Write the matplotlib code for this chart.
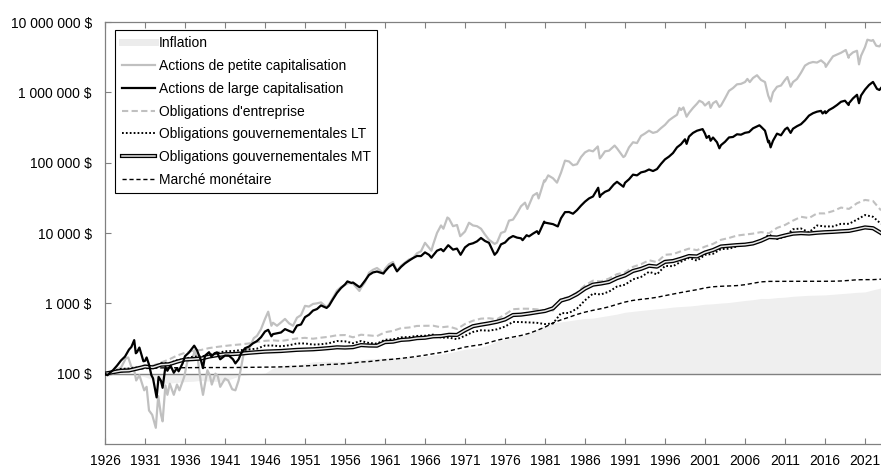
import numpy as np
import matplotlib
matplotlib.use("Agg")
import matplotlib.pyplot as plt
from matplotlib.lines import Line2D
from matplotlib.ticker import FixedLocator, FuncFormatter, NullLocator
import matplotlib.patheffects as pe

plt.rcParams["font.family"] = ["Liberation Sans", "DejaVu Sans"]
plt.rcParams["font.size"] = 10

# Growth of 100 $ invested at the start of 1926 (values at the end of each period)
years = list(range(1926, 2024))

inflation = [100, 98.5, 96.5, 95.5, 95.7, 89.9, 81.4, 73.0, 73.4, 74.9,
             77.1, 78.0, 80.4, 78.2, 77.8, 78.6, 86.2, 94.2, 97.2, 99.3,
             101.5, 119.9, 130.7, 134.3, 131.8, 139.5, 147.7, 149.0, 149.9, 149.2,
             149.7, 154.0, 158.7, 161.5, 163.9, 166.3, 167.4, 169.5, 172.3, 174.3,
             177.7, 183.6, 189.2, 198.1, 210.2, 221.8, 229.2, 237.1, 257.9, 289.4,
             309.7, 324.6, 346.6, 377.8, 428.1, 481.2, 524.2, 544.5, 565.2, 587.5,
             609.7, 616.4, 643.7, 672.2, 703.4, 746.4, 769.3, 791.6, 813.3, 835.1,
             856.3, 884.7, 900.2, 914.6, 938.9, 970.7, 985.7, 1009.1, 1028.1, 1062.3,
             1098.9, 1126.9, 1172.8, 1173.8, 1206.0, 1223.8, 1260.0, 1281.6, 1299.9, 1308.6,
             1318.2, 1345.3, 1374.0, 1401.0, 1433.0, 1452.0, 1556.0, 1655.0]

corporate = [100, 107, 115, 119, 123, 132, 130, 144, 159, 181,
             198, 212, 217, 231, 240, 248, 255, 261, 269, 282,
             293, 298, 291, 304, 317, 323, 314, 325, 335, 352,
             354, 329, 358, 350, 342, 388, 406, 444, 453, 477,
             479, 481, 456, 469, 431, 509, 566, 606, 613, 595,
             694, 824, 839, 838, 821, 780, 790, 1171, 1221, 1430,
             1800, 2100, 2050, 2250, 2600, 2750, 3300, 3600, 4100, 3850,
             4900, 5000, 5500, 6000, 5700, 6400, 7000, 8000, 8500, 9200,
             9500, 9800, 10300, 9900, 11800, 13000, 15000, 17000, 16300, 19000,
             19000, 20500, 23000, 22000, 26500, 29500, 28500, 21000]

gov_lt = [100, 108, 117, 118, 122, 127, 120, 141, 141, 155,
          162, 175, 175, 185, 196, 208, 210, 216, 221, 227,
          251, 251, 245, 253, 269, 269, 259, 262, 271, 291,
          288, 271, 291, 273, 267, 304, 307, 328, 332, 344,
          346, 359, 326, 325, 309, 346, 392, 414, 409, 427,
          467, 545, 541, 535, 528, 507, 517, 725, 730, 843,
          1104, 1375, 1337, 1467, 1732, 1839, 2194, 2371, 2803, 2586,
          3404, 3373, 3907, 4418, 4049, 4890, 5061, 5904, 5980, 6460,
          6920, 6990, 7650, 9500, 8200, 8900, 11300, 11600, 10200, 12800,
          12400, 12400, 13500, 13500, 15500, 18000, 17000, 13500]

gov_mt = [100, 105, 110, 111, 118, 126, 123, 134, 136, 148,
          159, 161, 164, 175, 183, 189, 190, 193, 198, 202,
          206, 208, 210, 214, 218, 220, 222, 226, 231, 237,
          235, 238, 255, 251, 250, 281, 285, 302, 307, 320,
          324, 339, 342, 357, 355, 415, 473, 497, 519, 547,
          590, 682, 691, 716, 747, 778, 850, 1095, 1180, 1350,
          1621, 1844, 1912, 2009, 2280, 2493, 2885, 3091, 3423, 3327,
          3891, 3994, 4312, 4704, 4640, 5280, 5720, 6430, 6580, 6730,
          6830, 7100, 7770, 8750, 8630, 9220, 9780, 9950, 9820, 10080,
          10260, 10380, 10570, 10720, 11320, 12000, 11700, 10000]

money_market = [100, 103.3, 106.5, 110.3, 115.6, 118.4, 119.6, 120.8, 121.2, 121.4,
                121.6, 121.8, 122.2, 122.1, 122.2, 122.2, 122.2, 122.6, 123.0, 123.4,
                123.8, 124.2, 124.9, 125.9, 127.3, 128.8, 130.7, 132.9, 135.3, 136.5,
                138.6, 142.0, 146.5, 148.7, 153.1, 157.2, 160.6, 164.9, 170.1, 176.1,
                183.0, 191.7, 199.8, 210.2, 224.0, 238.6, 249.1, 258.6, 276.5, 298.6,
                316.0, 332.0, 349.0, 374.1, 412.9, 459.3, 526.9, 582.4, 633.6, 696.0,
                749.7, 795.9, 839.4, 892.7, 967.4, 1043, 1101, 1140, 1173, 1219,
                1287, 1354, 1425, 1494, 1564, 1656, 1720, 1748, 1766, 1787,
                1840, 1929, 2019, 2051, 2053, 2055, 2056, 2057, 2058, 2058,
                2059, 2063, 2079, 2117, 2162, 2172, 2173, 2205]

# Stock indices sampled more finely (date as fractional year, value)
large_cap = [
    (1926.0, 100), (1926.3, 95), (1926.7, 105), (1927.0, 112), (1927.5, 130),
    (1928.0, 154), (1928.5, 175), (1929.0, 220), (1929.3, 240), (1929.65, 300),
    (1929.85, 195), (1930.0, 202), (1930.3, 235), (1930.8, 150), (1931.0, 152),
    (1931.2, 170), (1931.5, 135), (1931.8, 95), (1932.0, 86), (1932.45, 46),
    (1932.7, 90), (1933.0, 79), (1933.2, 63), (1933.55, 125), (1933.8, 110),
    (1934.0, 121), (1934.2, 130), (1934.6, 103), (1935.0, 120), (1935.2, 108),
    (1935.7, 140), (1936.0, 177), (1936.5, 200), (1937.0, 237), (1937.15, 250),
    (1937.5, 215), (1938.0, 154), (1938.25, 120), (1938.5, 180), (1939.0, 202),
    (1939.3, 175), (1939.7, 195), (1940.0, 201), (1940.4, 160), (1941.0, 181),
    (1941.5, 180), (1942.0, 160), (1942.3, 140), (1942.7, 160), (1943.0, 193),
    (1943.5, 230), (1944.0, 243), (1944.5, 270), (1945.0, 291), (1945.5, 330),
    (1946.0, 397), (1946.4, 420), (1946.8, 340), (1947.0, 365), (1947.5, 375),
    (1948.0, 385), (1948.5, 430), (1949.0, 406), (1949.5, 385), (1950.0, 483),
    (1950.5, 500), (1951.0, 636), (1951.5, 690), (1952.0, 789), (1952.5, 830),
    (1953.0, 934), (1953.7, 860), (1954.0, 924), (1954.5, 1150), (1955.0, 1411),
    (1955.5, 1650), (1956.0, 1856), (1956.3, 2050), (1956.8, 1950), (1957.0, 1978),
    (1957.8, 1700), (1958.0, 1765), (1958.5, 2100), (1959.0, 2530), (1959.5, 2750),
    (1960.0, 2832), (1960.8, 2650), (1961.0, 2846), (1961.5, 3300), (1962.0, 3611),
    (1962.5, 2850), (1963.0, 3295), (1963.5, 3700), (1964.0, 4047), (1964.5, 4400),
    (1965.0, 4714), (1965.5, 4700), (1966.0, 5301), (1966.5, 4900), (1966.8, 4450),
    (1967.0, 4767), (1967.5, 5600), (1968.0, 5910), (1968.3, 5500), (1968.9, 6700),
    (1969.0, 6564), (1969.5, 5800), (1970.0, 6006), (1970.45, 4900), (1971.0, 6247),
    (1971.5, 6900), (1972.0, 7141), (1972.5, 7600), (1973.0, 8496), (1973.5, 7700),
    (1974.0, 7250), (1974.7, 4900), (1975.0, 5331), (1975.5, 6900), (1976.0, 7314),
    (1976.5, 8400), (1977.0, 9058), (1977.5, 8600), (1978.0, 8408), (1978.2, 7900),
    (1978.7, 9300), (1979.0, 8959), (1979.5, 9800), (1980.0, 10611), (1980.2, 9700),
    (1980.9, 14500), (1981.0, 14051), (1981.5, 13700), (1982.0, 13362), (1982.6, 12400),
    (1983.0, 16222), (1983.5, 19800), (1984.0, 19875), (1984.5, 18800), (1985.0, 21120),
    (1985.5, 24500), (1986.0, 27912), (1986.5, 31000), (1987.0, 33067), (1987.65, 44000),
    (1987.85, 32500), (1988.0, 34797), (1988.5, 38500), (1989.0, 40646), (1989.6, 49000),
    (1990.0, 53446), (1990.8, 45500), (1991.0, 51750), (1991.5, 58000), (1992.0, 67559),
    (1992.5, 66000), (1993.0, 72741), (1993.5, 75000), (1994.0, 80008), (1994.5, 76000),
    (1995.0, 81054), (1995.5, 96000), (1996.0, 111392), (1996.5, 122000), (1997.0, 137095),
    (1997.5, 165000), (1998.0, 182833), (1998.5, 215000), (1998.7, 185000), (1999.0, 235089),
    (1999.5, 265000), (2000.0, 284563), (2000.7, 300000), (2001.0, 258652), (2001.2, 225000),
    (2001.5, 240000), (2001.7, 205000), (2002.0, 227913), (2002.5, 195000), (2002.8, 160000),
    (2003.0, 177534), (2003.5, 198000), (2004.0, 228479), (2004.5, 232000), (2005.0, 253341),
    (2005.5, 250000), (2006.0, 265770), (2006.5, 272000), (2007.0, 307780), (2007.5, 328000),
    (2007.8, 340000), (2008.0, 324700), (2008.5, 285000), (2008.9, 195000), (2009.0, 204570),
    (2009.2, 165000), (2009.5, 205000), (2010.0, 258710), (2010.5, 245000), (2011.0, 297670),
    (2011.3, 315000), (2011.7, 265000), (2012.0, 303960), (2012.5, 330000), (2013.0, 352620),
    (2013.5, 400000), (2014.0, 466820), (2014.5, 505000), (2015.0, 530750), (2015.5, 545000),
    (2015.7, 500000), (2016.0, 538090), (2016.1, 505000), (2016.5, 560000), (2017.0, 602460),
    (2017.5, 660000), (2018.0, 733960), (2018.5, 760000), (2018.95, 660000), (2019.0, 701760),
    (2019.5, 820000), (2020.0, 922720), (2020.25, 700000), (2020.5, 900000), (2021.0, 1092500),
    (2021.5, 1270000), (2022.0, 1406100), (2022.5, 1120000), (2022.8, 1080000), (2023.0, 1151400),
]

small_cap = [
    (1926.0, 100), (1926.5, 95), (1927.0, 100), (1927.5, 115), (1928.0, 122),
    (1928.6, 165), (1928.9, 170), (1929.3, 125), (1929.6, 120), (1929.9, 80),
    (1930.3, 95), (1930.9, 58), (1931.2, 65), (1931.5, 30), (1931.9, 26),
    (1932.35, 17), (1932.65, 48), (1933.0, 26), (1933.2, 21), (1933.55, 68),
    (1933.8, 50), (1934.1, 72), (1934.6, 50), (1935.0, 70), (1935.3, 58),
    (1935.9, 90), (1936.3, 150), (1937.0, 170), (1937.2, 215), (1937.6, 160),
    (1938.0, 72), (1938.25, 50), (1938.8, 112), (1939.1, 95), (1939.35, 70),
    (1939.8, 100), (1940.1, 92), (1940.4, 65), (1941.0, 85), (1941.4, 80),
    (1941.9, 60), (1942.3, 58), (1942.7, 80), (1943.0, 120), (1943.4, 210),
    (1944.0, 224), (1944.6, 320), (1945.0, 345), (1945.5, 430), (1946.0, 600),
    (1946.4, 760), (1946.8, 480), (1947.0, 530), (1947.5, 480), (1948.0, 535),
    (1948.5, 600), (1949.0, 520), (1949.5, 480), (1950.0, 625), (1950.5, 680),
    (1951.0, 920), (1951.5, 900), (1952.0, 980), (1952.5, 1000), (1953.0, 1030),
    (1953.7, 880), (1954.0, 965), (1954.5, 1200), (1955.0, 1520), (1955.5, 1700),
    (1956.0, 1830), (1956.5, 1950), (1957.0, 1910), (1957.8, 1500), (1958.0, 1660),
    (1958.5, 2000), (1959.0, 2720), (1959.5, 3000), (1960.0, 3180), (1960.8, 2700),
    (1961.0, 3090), (1961.5, 3600), (1962.0, 3870), (1962.5, 2900), (1963.0, 3420),
    (1963.5, 3800), (1964.0, 4200), (1964.5, 4400), (1965.0, 5150), (1965.5, 5500),
    (1966.0, 7250), (1966.8, 5600), (1967.0, 6750), (1967.5, 10000), (1968.0, 12800),
    (1968.3, 11500), (1968.8, 16600), (1969.0, 16000), (1969.5, 12500), (1970.0, 13000),
    (1970.4, 9000), (1971.0, 10500), (1971.5, 14000), (1972.0, 12800), (1972.5, 12500),
    (1973.0, 11500), (1973.5, 9500), (1974.0, 8000), (1974.7, 7000), (1975.0, 7300),
    (1975.5, 10000), (1976.0, 10500), (1976.5, 15000), (1977.0, 15500), (1977.5, 19000),
    (1978.0, 24000), (1978.5, 27000), (1978.8, 22000), (1979.0, 25000), (1979.5, 34000),
    (1980.0, 37000), (1980.2, 31000), (1980.9, 56000), (1981.0, 54000), (1981.4, 66000),
    (1982.0, 60000), (1982.5, 52000), (1983.0, 72000), (1983.5, 107000), (1984.0, 104000),
    (1984.5, 92000), (1985.0, 95000), (1985.5, 120000), (1986.0, 140000), (1986.5, 150000),
    (1987.0, 145000), (1987.6, 170000), (1987.85, 115000), (1988.0, 120000), (1988.5, 145000),
    (1989.0, 148000), (1989.7, 175000), (1990.0, 160000), (1990.8, 120000), (1991.0, 125000),
    (1991.5, 165000), (1992.0, 195000), (1992.5, 190000), (1993.0, 240000), (1993.5, 260000),
    (1994.0, 285000), (1994.5, 265000), (1995.0, 275000), (1995.5, 310000), (1996.0, 345000),
    (1996.5, 400000), (1997.0, 440000), (1997.5, 480000), (1997.8, 600000), (1998.0, 560000),
    (1998.3, 610000), (1998.7, 450000), (1999.0, 510000), (1999.5, 600000), (2000.0, 690000),
    (2000.3, 760000), (2000.7, 720000), (2001.0, 650000), (2001.5, 730000), (2001.7, 600000),
    (2002.0, 700000), (2002.4, 750000), (2002.8, 620000), (2003.0, 650000), (2003.5, 820000),
    (2004.0, 1050000), (2004.5, 1150000), (2005.0, 1300000), (2005.5, 1320000), (2006.0, 1400000),
    (2006.3, 1550000), (2006.6, 1400000), (2007.0, 1600000), (2007.5, 1750000), (2008.0, 1500000),
    (2008.5, 1400000), (2008.9, 900000), (2009.2, 740000), (2009.5, 1000000), (2010.0, 1200000),
    (2010.5, 1250000), (2011.0, 1500000), (2011.3, 1650000), (2011.7, 1200000), (2012.0, 1400000),
    (2012.5, 1550000), (2013.0, 1900000), (2013.5, 2400000), (2014.0, 2600000), (2014.5, 2700000),
    (2015.0, 2650000), (2015.5, 2850000), (2016.0, 2550000), (2016.1, 2300000), (2016.5, 2700000),
    (2017.0, 3250000), (2017.5, 3450000), (2018.0, 3650000), (2018.6, 4000000), (2018.95, 3100000),
    (2019.0, 3300000), (2019.5, 3700000), (2020.0, 3900000), (2020.25, 2500000), (2020.5, 3300000),
    (2021.0, 4400000), (2021.3, 5600000), (2021.8, 5400000), (2022.0, 5550000), (2022.4, 4600000),
    (2022.8, 4500000), (2023.0, 4800000),
]

labels = ["Inflation",
          "Actions de petite capitalisation",
          "Actions de large capitalisation",
          "Obligations d'entreprise",
          "Obligations gouvernementales LT",
          "Obligations gouvernementales MT",
          "Marché monétaire"]

y_ticks = [1e2, 1e3, 1e4, 1e5, 1e6, 1e7]
x_ticks = list(range(1926, 2022, 5))

LIGHT = "#c0c0c0"
AXIS = "#808080"

fig = plt.figure(figsize=(8.81, 4.66), dpi=100)
ax = fig.add_axes([105 / 881, 22 / 466, 776 / 881, 422 / 466])

yrs = np.array(years, dtype=float)
ax.fill_between(yrs, 100, inflation, color="#efefef", lw=0, zorder=1)
ax.axhline(100, color=AXIS, lw=1.0, zorder=1.5)

st, sv = zip(*small_cap)
lt_, lv = zip(*large_cap)
ax.plot(st, sv, color=LIGHT, lw=1.6, zorder=3)
ax.plot(lt_, lv, color="black", lw=1.6, zorder=4)
ax.plot(yrs, corporate, color=LIGHT, lw=1.5, dashes=(3, 1.6), zorder=3)
ax.plot(yrs, gov_lt, color="black", lw=1.4, dashes=(0.9, 1.1), zorder=3)
mt_effects = [pe.Stroke(linewidth=3.0, foreground="black"), pe.Normal()]
ax.plot(yrs, gov_mt, color="#e6e6e6", lw=1.1, zorder=3.5, path_effects=mt_effects)
ax.plot(yrs, money_market, color="black", lw=1.0, dashes=(3, 2), zorder=3)

ax.set_yscale("log")
ax.set_ylim(10, 1e7)
ax.set_xlim(1926, 2023)
ax.yaxis.set_major_locator(FixedLocator(y_ticks))
ax.yaxis.set_minor_locator(NullLocator())
ax.yaxis.set_major_formatter(
    FuncFormatter(lambda v, p: f"{int(round(v)):,} $".replace(",", " ")))
ax.xaxis.set_major_locator(FixedLocator(x_ticks))
ax.xaxis.set_major_formatter(FuncFormatter(lambda v, p: f"{int(v)}"))

ax.tick_params(axis="x", direction="in", length=4, width=0.8, color=AXIS,
               top=True, bottom=True, labelsize=10, pad=7)
ax.tick_params(axis="y", direction="in", length=4, width=0.8, color=AXIS,
               left=True, right=False, labelsize=10, pad=9.5)
for side in ("left", "bottom", "top"):
    ax.spines[side].set_color(AXIS)
    ax.spines[side].set_linewidth(0.9)
ax.spines["right"].set_visible(False)

handles = [
    Line2D([], [], color="#ececec", lw=5),
    Line2D([], [], color=LIGHT, lw=1.6),
    Line2D([], [], color="black", lw=1.6),
    Line2D([], [], color=LIGHT, lw=1.5, dashes=(3, 1.6)),
    Line2D([], [], color="black", lw=1.4, dashes=(0.9, 1.1)),
    Line2D([], [], color="#e6e6e6", lw=1.1, path_effects=mt_effects),
    Line2D([], [], color="black", lw=1.0, dashes=(3, 2)),
]
leg = ax.legend(handles, labels, loc="upper left", bbox_to_anchor=(0.0133, 0.981),
                borderaxespad=0, frameon=True, fancybox=False, framealpha=1,
                edgecolor="black", handlelength=2.4, handletextpad=0.3,
                labelspacing=0.63, borderpad=0.45, fontsize=10)
leg.get_frame().set_linewidth(0.8)
leg.set_zorder(10)

fig.savefig("out.png", dpi=100)
